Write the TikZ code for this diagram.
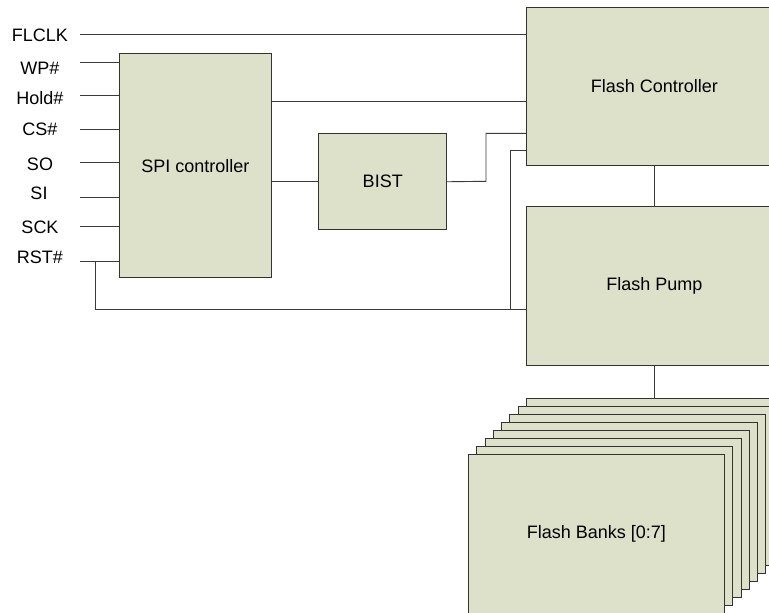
\documentclass[tikz,border=0pt]{standalone}
\usepackage{fontspec}
\setmainfont{Liberation Sans}
\definecolor{boxfill}{HTML}{DDE1CA}
\definecolor{boxline}{HTML}{333333}
\definecolor{wirecol}{HTML}{3A3A3A}
\begin{document}
\begin{tikzpicture}[x=1pt,y=-1pt,
  every node/.style={font=\fontsize{18}{21}\selectfont},
  blk/.style={draw=boxline,fill=boxfill,line width=0.9pt,inner sep=0pt,anchor=north west},
  flashblk/.style={blk,minimum width=256pt,minimum height=159pt},
  wire/.style={draw=wirecol,line width=0.9pt},
  pinlbl/.style={anchor=center,inner sep=0pt}]
\useasboundingbox (0,0) rectangle (769,613);
\clip (0,0) rectangle (769,613);

% blocks
\node[blk,minimum width=151.4pt,minimum height=224pt] (spi) at (119.3,53.3) {SPI controller};
\node[blk,minimum width=128pt,minimum height=96pt] (bist) at (318.3,133.3) {BIST};
\node[flashblk,minimum height=158.6pt] (fc) at (526,6.7) {Flash Controller};
\node[flashblk,minimum height=159.3pt] (pump) at (526,205.7) {Flash Pump};
\foreach \i in {0,...,6}
  \node[flashblk] (bank\i) at ({526-8.286*\i},{397.7+8.04*\i}) {};
\node[flashblk] (bank7) at (468,454) {Flash Banks [0:7]};

% pin labels
\node[pinlbl] (lflclk) at (40,35) {FLCLK};
\node[pinlbl] (lwp) at (40,68) {WP\#};
\node[pinlbl] (lhold) at (40,98) {Hold\#};
\node[pinlbl] (lcs) at (40,129) {CS\#};
\node[pinlbl] (lso) at (40,164) {SO};
\node[pinlbl] (lsi) at (39,193) {SI};
\node[pinlbl] (lsck) at (40,227) {SCK};
\node[pinlbl] (lrst) at (40,257) {RST\#};

% pin line starts
\coordinate (pflclk) at (80,34.3);
\coordinate (pwp) at (80,62.7);
\coordinate (phold) at (80,95);
\coordinate (pcs) at (80,129);
\coordinate (pso) at (80,162);
\coordinate (psi) at (80,197.7);
\coordinate (psck) at (80,226.7);
\coordinate (prst) at (80,261.7);

\draw[wire] (pflclk) -- (pflclk -| fc.west);
\foreach \p in {pwp,phold,pcs,pso,psi,psck,prst}
  \draw[wire] (\p) -- (\p -| spi.west);

% internal routing
\coordinate (rstTap) at (95.3,261.7);
\coordinate (rstLow) at (95.3,309.3);
\coordinate (fcA) at (526,101.7);
\coordinate (fcB) at (526,133.3);
\coordinate (fcC) at (526,150);
\coordinate (bistJog) at (486,181.3);
\coordinate (vJog) at (510,150);
\coordinate (vLow) at (510,309.3);

\draw[wire] (fcA -| spi.east) -- (fc.west |- fcA);
\draw[wire] (spi.east |- bist.west) -- (bist.west);
\draw[wire] (bist.east) -- (bistJog) -- (bistJog |- fcB) -- (fc.west |- fcB);
\draw[wire] (fc.west |- fcC) -- (vJog) -- (vLow);
\draw[wire] (rstTap) -- (rstLow) -- (rstLow -| pump.west);
\draw[wire] (fc.south) -- (pump.north);
\draw[wire] (pump.south) -- (bank0.north);
\end{tikzpicture}
\end{document}
